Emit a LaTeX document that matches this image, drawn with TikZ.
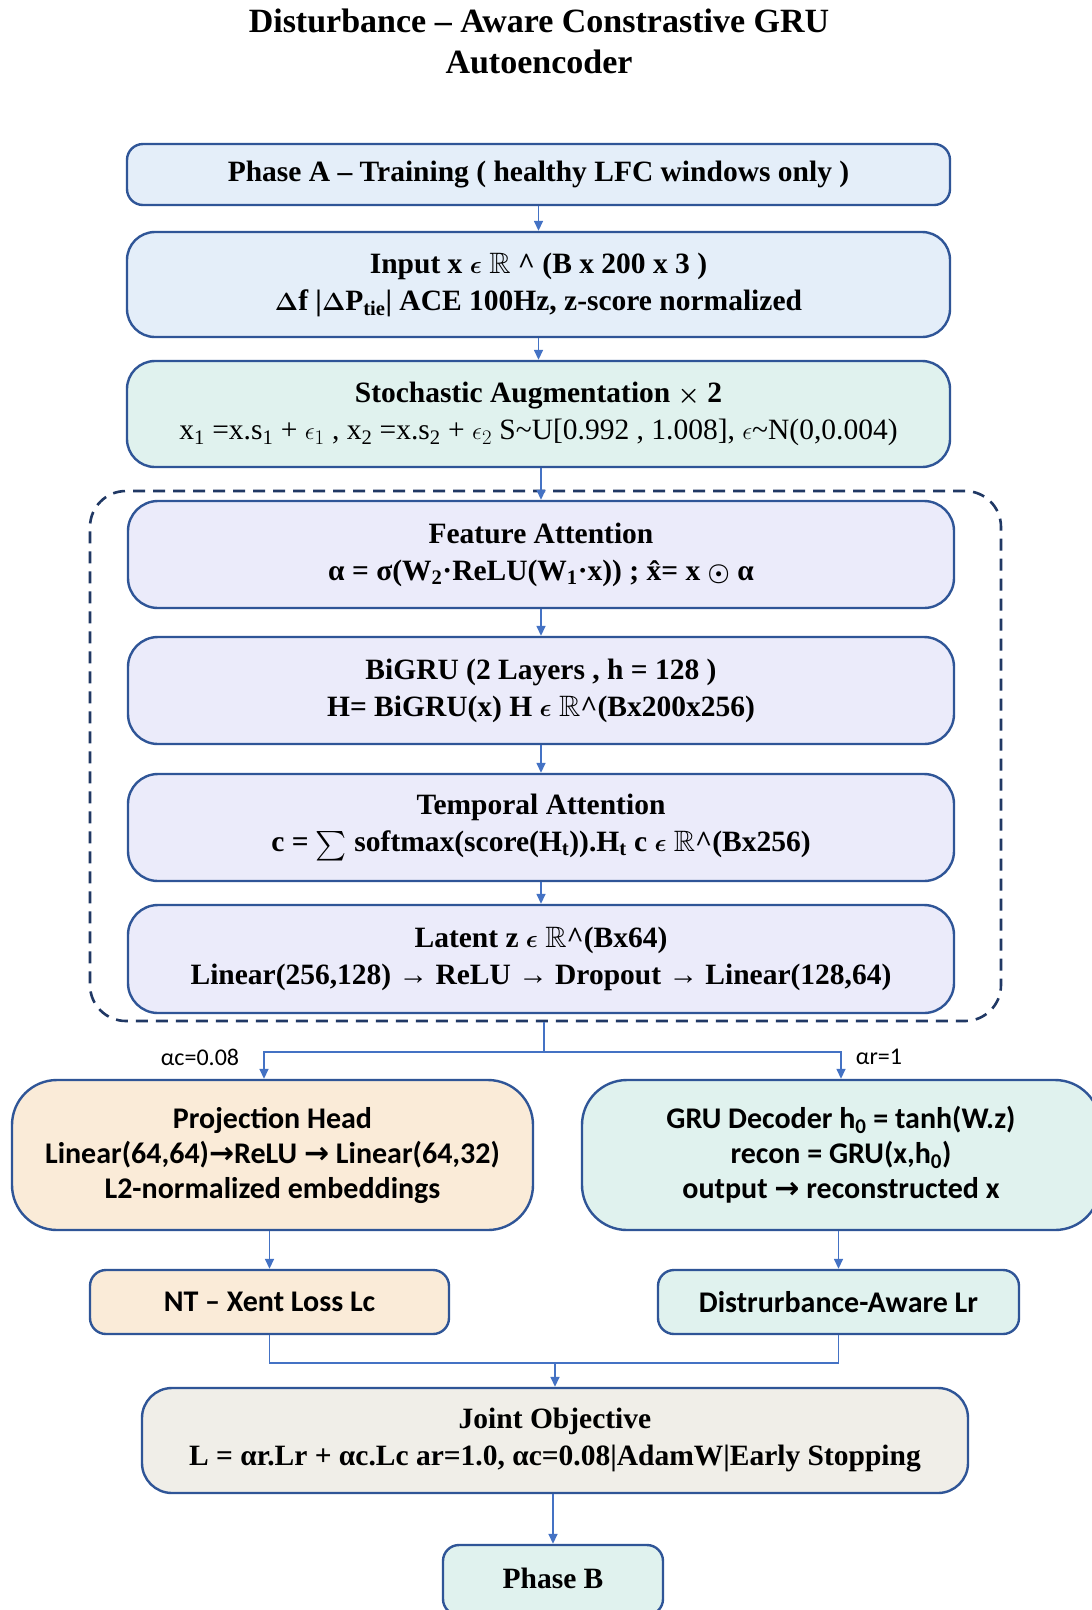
\documentclass[tikz,border=0pt]{standalone}
\usepackage{amsmath,amssymb}
\usepackage{fontspec}
\usetikzlibrary{arrows.meta,fit,calc}
\newfontfamily\tnr{Liberation Serif}
\newfontfamily\calib{Carlito}
\newfontfamily\arrfont{DejaVu Sans}
\definecolor{boxline}{HTML}{2F5597}
\definecolor{arrblue}{HTML}{4472C4}
\definecolor{navy}{HTML}{203864}
\definecolor{fblue}{HTML}{E4EEF9}
\definecolor{fmint}{HTML}{E0F2EE}
\definecolor{flav}{HTML}{EBEBFA}
\definecolor{fpeach}{HTML}{FAEBD8}
\definecolor{fgrey}{HTML}{F0EEE8}
\tikzset{
  mybox/.style={draw=boxline, line width=2.4pt, rounded corners=#1, align=center, inner sep=0pt},
  serifbf/.style={font=\tnr\bfseries\boldmath\fontsize{29.5}{37}\selectfont},
  sansbf/.style={font=\calib\bfseries\fontsize{30}{35}\selectfont},
  arr/.style={draw=arrblue, line width=1.5pt, -{Triangle[length=10pt,width=9pt]}},
  ln/.style={draw=arrblue, line width=1.5pt},
  lbl/.style={font=\calib\fontsize{24}{26}\selectfont, inner sep=0pt},
}
\begin{document}
\begin{tikzpicture}[x=1pt,y=-1pt]
\useasboundingbox[fill=white] (0,0) rectangle (1092,1610);
\node[font=\tnr\bfseries\fontsize{34}{41}\selectfont, align=center] (title) at (539,41) {Disturbance – Aware Constrastive GRU\\Autoencoder};

\node[mybox=16pt, fill=fblue, serifbf, minimum width=823pt, minimum height=61pt] (pa) at (538.5,174.5)
  {Phase A – Training ( healthy LFC windows only )};
\node[mybox=28pt, fill=fblue, serifbf, minimum width=823pt, minimum height=105pt] (inp) at (538.5,284.5)
  {Input x $\epsilon$ $\mathbb{R}$ \textasciicircum\ (B x 200 x 3 )\\
   $\Delta$f |$\Delta$P\textsubscript{tie}| ACE 100Hz, z-score normalized};
\node[mybox=28pt, fill=fmint, serifbf, minimum width=823pt, minimum height=106pt] (aug) at (538.5,414)
  {Stochastic Augmentation $\times$ 2\\
   {\mdseries\unboldmath x\textsubscript{1} =x.s\textsubscript{1} + $\epsilon_1$ , x\textsubscript{2} =x.s\textsubscript{2} + $\epsilon_2$ S\textasciitilde U[0.992 , 1.008], $\epsilon$\textasciitilde N(0,0.004)}};

\node[mybox=30pt, fill=flav, serifbf, minimum width=826pt, minimum height=107pt] (fa) at (541,554.5)
  {Feature Attention\\
   α = σ(W\textsubscript{2}·ReLU(W\textsubscript{1}·x)) ; \^{x}= x $\odot$ α};
\node[mybox=30pt, fill=flav, serifbf, minimum width=826pt, minimum height=107pt] (gru) at (541,690.5)
  {BiGRU (2 Layers , h = 128 )\\
   H= BiGRU(x) H $\epsilon$ $\mathbb{R}$\textasciicircum(Bx200x256)};
\node[mybox=30pt, fill=flav, serifbf, minimum width=826pt, minimum height=107pt] (ta) at (541,827.5)
  {Temporal Attention\\
   c = $\textstyle\sum$ softmax(score(H\textsubscript{t})).H\textsubscript{t} c $\epsilon$ $\mathbb{R}$\textasciicircum(Bx256)};
\node[mybox=30pt, fill=flav, serifbf, minimum width=826pt, minimum height=108pt] (lat) at (541,959)
  {Latent z $\epsilon$ $\mathbb{R}$\textasciicircum(Bx64)\\
   Linear(256,128) → ReLU → Dropout → Linear(128,64)};
\node[draw=navy, line width=2.6pt, dash pattern=on 12pt off 8pt, rounded corners=36pt, minimum width=911pt, minimum height=530pt, inner sep=0pt] (enc) at (545.5,756) {};

\node[mybox=45pt, fill=fpeach, sansbf, minimum width=521pt, minimum height=150pt] (proj) at (272.5,1155)
  {Projection Head\\
   Linear(64,64){\arrfont →}ReLU {\arrfont →} Linear(64,32)\\
   L2-normalized embeddings};
\node[mybox=45pt, fill=fmint, sansbf, minimum width=518pt, minimum height=150pt] (dec) at (841,1155)
  {GRU Decoder h\textsubscript{0} = tanh(W.z)\\
   recon = GRU(x,h\textsubscript{0})\\
   output {\arrfont →} reconstructed x};
\node[mybox=16pt, fill=fpeach, sansbf, minimum width=359pt, minimum height=64pt] (nt) at (269.5,1302)
  {NT – Xent Loss Lc};
\node[mybox=16pt, fill=fmint, sansbf, minimum width=361pt, minimum height=64pt] (dl) at (838.5,1302)
  {Distrurbance-Aware Lr};
\node[mybox=30pt, fill=fgrey, serifbf, minimum width=826pt, minimum height=105pt] (jo) at (555,1440.5)
  {Joint Objective\\
   L = αr.Lr + αc.Lc ar=1.0, αc=0.08|AdamW|Early Stopping};
\node[mybox=16pt, fill=fmint, serifbf, minimum width=220pt, minimum height=70pt] (pb) at (553,1580)
  {\raisebox{3pt}{Phase B}};

\draw[arr] (pa) -- (inp);
\draw[arr] (inp) -- (aug);
\draw[arr] (aug.south -| fa.north) -- (fa.north);
\draw[arr] (fa) -- (gru);
\draw[arr] (gru) -- (ta);
\draw[arr] (ta) -- (lat);

\coordinate (split) at (544,1052);
\draw[ln] (enc.south -| split) -- (split);
\draw[arr] (split) -| (proj.north -| 264,0);
\draw[arr] (split) -| (dec.north);
\node[lbl] (lc) at (200,1057) {αc=0.08};
\node[lbl] (lr) at (879,1057) {αr=1};

\draw[arr] (proj.south -| nt.north) -- (nt.north);
\draw[arr] (dec.south -| dl.north) -- (dl.north);

\coordinate (merge) at (555,1363);
\draw[ln] (nt.south) |- (merge);
\draw[ln] (dl.south) |- (merge);
\draw[arr] (merge) -- (jo.north);
\draw[arr] (jo.south -| pb.north) -- (pb.north);
\end{tikzpicture}
\end{document}
